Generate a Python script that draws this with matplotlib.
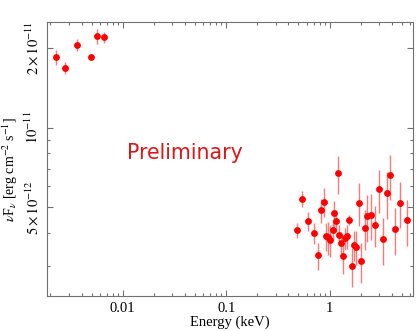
import matplotlib
matplotlib.use("Agg")
import matplotlib.pyplot as plt
from matplotlib.ticker import FixedLocator, LogLocator, NullFormatter, FixedFormatter

plt.rcParams['font.family'] = ['Liberation Serif', 'DejaVu Serif']
plt.rcParams['mathtext.fontset'] = 'stix'

# low energy points (keV, flux in 1e-12 erg/cm2/s)
e_low = [0.00226, 0.00278, 0.00359, 0.00493, 0.00564, 0.00654]
f_low = [18.5, 16.9, 20.6, 18.6, 22.3, 22.1]
err_low = [1.16, 0.86, 1.12, 0.30, 1.46, 1.06]

# X-ray points
e_x = [0.484, 0.544, 0.618, 0.700, 0.772, 0.831, 0.875, 0.923, 0.965, 1.016,
       1.079, 1.110, 1.161, 1.195, 1.241, 1.298, 1.357, 1.409, 1.483, 1.527,
       1.647, 1.722, 1.814, 1.909, 2.027, 2.182, 2.317, 2.516, 2.751, 2.981,
       3.260, 3.563, 3.844, 4.259, 4.803, 5.651]
f_x = [4.09, 5.38, 4.42, 3.99, 3.28, 4.86, 5.23, 3.87, 3.84, 3.76,
       4.10, 4.75, 4.44, 6.72, 3.92, 3.66, 3.27, 3.81, 3.87, 4.47,
       2.99, 3.59, 3.54, 5.20, 3.11, 4.15, 4.62, 4.68, 4.29, 5.84,
       3.78, 5.64, 6.60, 4.13, 5.20, 4.45]
err_x = [0.28, 0.38, 0.36, 0.38, 0.39, 0.50, 0.66, 0.47, 0.54, 0.53,
         0.36, 0.54, 0.43, 1.10, 0.34, 0.35, 0.48, 0.37, 0.40, 0.20,
         0.50, 0.47, 0.52, 0.95, 0.54, 0.72, 0.93, 0.94, 0.75, 1.07,
         0.76, 1.13, 1.30, 0.83, 1.04, 0.89]

y_ticks = [5e-12, 1e-11, 2e-11]
y_labels = [r'$5\times10^{-12}$', r'$10^{-11}$', r'$2\times10^{-11}$']
x_ticks = [0.01, 0.1, 1]
x_labels = ['0.01', '0.1', '1']

fig = plt.figure(figsize=(4.17, 3.31), dpi=100)
ax = fig.add_axes([0.1127, 0.1057, 0.8777, 0.8278])

for e, f, err in [(e_low, f_low, err_low), (e_x, f_x, err_x)]:
    ax.errorbar(e, [v * 1e-12 for v in f], yerr=[v * 1e-12 for v in err],
                fmt='none', ecolor='#ff6060', elinewidth=1.0, capsize=0, alpha=0.85)
    ax.plot(e, [v * 1e-12 for v in f], 'o', color='#ff0000', ms=3.9, mec='#ff0000')

ax.set_xscale('log')
ax.set_yscale('log')
ax.set_xlim(0.00185, 6.4)
ax.set_ylim(2.30e-12, 2.52e-11)

ax.xaxis.set_major_locator(FixedLocator(x_ticks))
ax.xaxis.set_major_formatter(FixedFormatter(x_labels))
ax.xaxis.set_minor_locator(LogLocator(base=10, subs=range(2, 10), numticks=20))
ax.xaxis.set_minor_formatter(NullFormatter())
ax.yaxis.set_major_locator(FixedLocator(y_ticks))
ax.yaxis.set_major_formatter(FixedFormatter(y_labels))
ax.yaxis.set_minor_locator(FixedLocator([3e-12, 4e-12, 6e-12, 7e-12, 8e-12, 9e-12]))
ax.yaxis.set_minor_formatter(NullFormatter())

for s in ax.spines.values():
    s.set_color('#707070')
ax.tick_params(which='both', direction='in', top=True, right=True, colors='#707070',
               labelcolor='black', labelsize=10.5)
ax.tick_params(which='major', length=4.5, width=0.8)
ax.tick_params(which='minor', length=2.5, width=0.8)
for lab in ax.get_yticklabels():
    lab.set_rotation(90)
    lab.set_va('center')
ax.tick_params(axis='y', pad=4)
ax.tick_params(axis='x', pad=4)

ax.set_xlabel('Energy (keV)', fontsize=10.5, labelpad=1)
ax.set_ylabel(r'$\nu$F$_\nu$ [erg cm$^{-2}$ s$^{-1}$]', fontsize=10)
ax.yaxis.set_label_coords(-0.075, 0.46)

ax.text(0.377, 0.523, 'Preliminary', transform=ax.transAxes, color='#e01515',
        fontsize=14.8, family='DejaVu Sans', ha='center', va='center')

fig.savefig('out.png', dpi=100)
